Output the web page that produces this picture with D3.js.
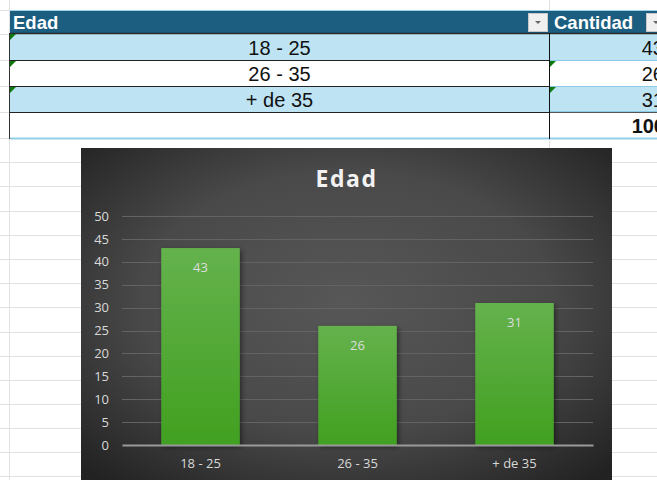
<!DOCTYPE html>
<html><head><meta charset="utf-8">
<script src="https://cdn.jsdelivr.net/npm/d3@7"></script>
<style>
html,body{margin:0;padding:0;background:#fff;}
svg{display:block;}
</style></head>
<body>
<script>
// ---- data ----
const categories = ["18 - 25", "26 - 35", "+ de 35"];
const values = [43, 26, 31];
const yTicks = [0, 5, 10, 15, 20, 25, 30, 35, 40, 45, 50];
const tableHeaders = ["Edad", "Cantidad"];
const chartTitle = "Edad";

const W = 657, H = 480;
const svg = d3.select("body").append("svg").attr("width", W).attr("height", H);
const defs = svg.append("defs");

// ---- spreadsheet background grid ----
const sheetRows = [10, 34, 60, 86, 112, 138, 162, 186, 211, 235, 259, 283, 307, 332, 356, 380, 404, 428, 452, 476];
svg.append("g").selectAll("line").data(sheetRows).join("line")
  .attr("x1", 0).attr("x2", W).attr("y1", d => d + 0.5).attr("y2", d => d + 0.5)
  .attr("stroke", "#e1e1e1").attr("stroke-width", 1);
svg.append("line").attr("x1", 9.5).attr("x2", 9.5).attr("y1", 0).attr("y2", H).attr("stroke", "#e1e1e1");
svg.append("line").attr("x1", 549.5).attr("x2", 549.5).attr("y1", 0).attr("y2", H).attr("stroke", "#e1e1e1");

// ---- table ----
const colA = [10, 549], colB = [549, 665];
const rowTops = [34, 60, 86, 112];
const rowFills = ["#bee4f4", "#ffffff", "#bee4f4", "#ffffff"];
const tbl = svg.append("g");
// header
tbl.append("rect").attr("x", 10).attr("y", 10).attr("width", W - 10).attr("height", 24).attr("fill", "#1c5e80");
tbl.append("line").attr("x1", 10).attr("x2", W).attr("y1", 10.5).attr("y2", 10.5).attr("stroke", "#9fd2ea");
tbl.append("text").attr("x", 13).attr("y", 29).text(tableHeaders[0])
  .attr("font-family", "Liberation Sans, Arial").attr("font-weight", "bold").attr("font-size", 18.5).attr("fill", "#fff");
tbl.append("text").attr("x", 554).attr("y", 29).text(tableHeaders[1])
  .attr("font-family", "Liberation Sans, Arial").attr("font-weight", "bold").attr("font-size", 18.5).attr("fill", "#fff");
// dropdown buttons
[528, 646].forEach(x => {
  tbl.append("rect").attr("x", x + 0.5).attr("y", 13.5).attr("width", 19).attr("height", 18)
    .attr("fill", "#f0f0f0").attr("stroke", "#c8c8c8");
  tbl.append("path").attr("d", `M${x + 7},${21} L${x + 13},${21} L${x + 10},${24} Z`).attr("fill", "#666");
});
// rows
rowTops.forEach((y, i) => {
  tbl.append("rect").attr("x", 10).attr("y", y).attr("width", W - 10).attr("height", 26).attr("fill", rowFills[i]);
});
// row borders col A (dark)
[33, 60, 86, 112].forEach((y, i) => {
  tbl.append("line").attr("x1", 10).attr("x2", i === 0 ? W : 549).attr("y1", y + 0.5).attr("y2", y + 0.5)
    .attr("stroke", i === 0 ? "#2a2a2a" : "#222").attr("stroke-width", i === 0 ? 1.5 : 1);
});
// row borders col B (light blue)
[60, 86, 111].forEach(y => {
  tbl.append("line").attr("x1", 549).attr("x2", W).attr("y1", y + 0.5).attr("y2", y + 0.5).attr("stroke", "#8ccbe8");
});
tbl.append("line").attr("x1", 549).attr("x2", W).attr("y1", 112.5).attr("y2", 112.5).attr("stroke", "#555");
tbl.append("line").attr("x1", 10).attr("x2", W).attr("y1", 138.5).attr("y2", 138.5).attr("stroke", "#93cde8").attr("stroke-width", 2);
tbl.append("line").attr("x1", 9.5).attr("x2", 9.5).attr("y1", 33).attr("y2", 139).attr("stroke", "#333");
tbl.append("line").attr("x1", 549.5).attr("x2", 549.5).attr("y1", 33).attr("y2", 139).attr("stroke", "#111");
// green triangles
const tri = (x, y) => tbl.append("path").attr("d", `M${x},${y} L${x + 6},${y} L${x},${y + 6} Z`).attr("fill", "#0e7a0e");
[34, 61, 87].forEach(y => tri(10, y));
[61, 87].forEach(y => tri(550, y));
// cell text
const rowBase = [55, 81, 107];
categories.forEach((c, i) => {
  tbl.append("text").attr("x", 279.5).attr("y", rowBase[i]).attr("text-anchor", "middle").text(c)
    .attr("font-family", "Liberation Sans, Arial").attr("font-size", 20).attr("fill", "#111");
  tbl.append("text").attr("x", 664).attr("y", rowBase[i]).attr("text-anchor", "end").text(values[i])
    .attr("font-family", "Liberation Sans, Arial").attr("font-size", 20).attr("fill", "#111");
});
tbl.append("text").attr("x", 665).attr("y", 133).attr("text-anchor", "end").text(d3.sum(values))
  .attr("font-family", "Liberation Sans, Arial").attr("font-weight", "bold").attr("font-size", 20).attr("fill", "#111");

// ---- chart ----
const cx0 = 81, cy0 = 148, cw = 531, ch = 340;
const bg = defs.append("radialGradient").attr("id", "bg").attr("cx", "50%").attr("cy", "45%").attr("r", "70%");
bg.append("stop").attr("offset", "0%").attr("stop-color", "#575757");
bg.append("stop").attr("offset", "55%").attr("stop-color", "#494949");
bg.append("stop").attr("offset", "100%").attr("stop-color", "#222");
svg.append("rect").attr("x", cx0).attr("y", cy0).attr("width", cw).attr("height", ch).attr("fill", "url(#bg)");

const barG = defs.append("linearGradient").attr("id", "barg").attr("x1", 0).attr("x2", 0).attr("y1", 0).attr("y2", 1);
barG.append("stop").attr("offset", "0%").attr("stop-color", "#65b24d");
barG.append("stop").attr("offset", "100%").attr("stop-color", "#41a020");
const sh = defs.append("filter").attr("id", "sh").attr("x", "-20%").attr("y", "-20%").attr("width", "150%").attr("height", "150%");
sh.append("feDropShadow").attr("dx", 2).attr("dy", 2).attr("stdDeviation", 2.5).attr("flood-color", "#000").attr("flood-opacity", 0.45);

const plotL = 122, plotR = 593, plotT = 216, plotB = 445;
const x = d3.scaleBand().domain(categories).range([plotL, plotR]).paddingInner(0.5).paddingOuter(0.25);
const y = d3.scaleLinear().domain([0, 50]).range([plotB, plotT]);

svg.append("text").attr("x", cx0 + cw / 2).attr("y", 187).attr("text-anchor", "middle").text(chartTitle)
  .attr("font-family", "Open Sans, sans-serif").attr("font-weight", "bold").attr("font-size", 23)
  .attr("letter-spacing", 1.5).attr("fill", "#f2f2f2");

// gridlines
svg.append("g").selectAll("line").data(yTicks.filter(d => d > 0)).join("line")
  .attr("x1", plotL).attr("x2", plotR).attr("y1", d => Math.round(y(d)) + 0.5).attr("y2", d => Math.round(y(d)) + 0.5)
  .attr("stroke", "#636363").attr("stroke-width", 1);

// y axis
const yAxis = svg.append("g").attr("transform", `translate(${plotL - 13},0)`)
  .call(d3.axisLeft(y).tickValues(yTicks).tickSize(0).tickPadding(0));
yAxis.select(".domain").remove();
yAxis.selectAll("text").attr("font-family", "Open Sans, sans-serif").attr("font-size", 13).attr("fill", "#d9d9d9");

// bars
svg.append("g").selectAll("rect").data(values).join("rect")
  .attr("x", (d, i) => x(categories[i])).attr("width", x.bandwidth())
  .attr("y", d => y(d)).attr("height", d => y(0) - y(d))
  .attr("fill", "url(#barg)").attr("filter", "url(#sh)");

// x axis
const xAxis = svg.append("g").attr("transform", `translate(0,${plotB})`)
  .call(d3.axisBottom(x).tickSize(0).tickPadding(14));
xAxis.select(".domain").attr("stroke", "#9a9a9a").attr("stroke-width", 2);
xAxis.selectAll("text").attr("font-family", "Open Sans, sans-serif").attr("font-size", 13).attr("fill", "#d9d9d9");

// data labels
svg.append("g").selectAll("text").data(values).join("text")
  .attr("x", (d, i) => x(categories[i]) + x.bandwidth() / 2).attr("y", d => y(d) + 24)
  .attr("text-anchor", "middle").text(d => d)
  .attr("font-family", "Open Sans, sans-serif").attr("font-size", 13).attr("fill", "#dcdcdc");
</script>
</body></html>
